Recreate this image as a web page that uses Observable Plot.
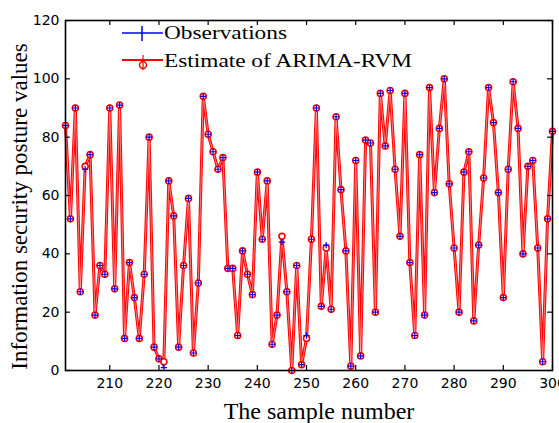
<!DOCTYPE html>
<html><head><meta charset="utf-8">
<script src="https://cdn.jsdelivr.net/npm/d3@7"></script>
<script src="https://cdn.jsdelivr.net/npm/@observablehq/plot@0.6"></script>
<style>
body{margin:0;background:#fff}
#wrap{position:relative;width:559px;height:423px}
#wrap svg{display:block}
#legend{position:absolute;left:0;top:0;pointer-events:none}
</style>
</head><body><div id="wrap"></div>
<script>
const samples = d3.range(201, 301);
const estimates = [
  84,52,90,27,70,74,19,36,33,90,
  28,91,11,37,25,11,33,80,8,4,
  3,65,53,8,36,59,6,30,94,81,
  75,69,73,35,35,12,41,33,26,68,
  45,65,9,19,46,27,0,36,2,11,
  45,90,22,42,21,87,62,41,1.5,72,
  5,79,78,20,95,77,96,69,46,95,
  37,12,74,19,97,61,83,100,64,42,
  20,68,75,17,43,66,97,85,61,25,
  69,99,83,40,70,72,42,3,52,82
];
const observations = [
  84,52,90,27,69,74,19,36,33,90,
  28,91,11,37,25,11,33,80,8,4,
  1,65,53,8,36,59,6,30,94,81,
  75,69,73,35,35,12,41,33,26,68,
  45,65,9,19,44,27,0,36,2,12,
  45,90,22,43,21,87,62,41,1.5,72,
  5,79,78,20,95,77,96,69,46,95,
  37,12,74,19,97,61,83,100,64,42,
  20,68,75,17,43,66,97,85,61,25,
  69,99,83,40,70,72,42,3,52,82
];
const xTicks = [210,220,230,240,250,260,270,280,290,300];
const yTicks = [0,20,40,60,80,100,120];
const seriesNames = ["Observations", "Estimate of ARIMA-RVM"];
const xLabel = "The sample number";
const yLabel = "Information security posture values";

const data = samples.map((t, i) => ({t, obs: observations[i], est: estimates[i]}));

const serif = "'Liberation Serif', 'Times New Roman', serif";

const chart = Plot.plot({
  width: 559, height: 423,
  marginLeft: 65, marginRight: 7, marginTop: 20, marginBottom: 53,
  x: {domain: [201, 300]},
  y: {domain: [0, 120]},
  style: {fontFamily: "DejaVu Sans", fontSize: "14px", color: "#000", background: "#fff"},
  marks: [
    Plot.axisX({ticks: xTicks, tickSize: 0, tickPadding: 8, label: null, fontSize: 14}),
    Plot.axisY({ticks: yTicks, tickSize: 0, tickPadding: 6, label: null, fontSize: 14}),
    Plot.line(data, {x: "t", y: "obs", stroke: "#0000ff", strokeWidth: 1}),
    Plot.line(data, {x: "t", y: "est", stroke: "#ff0000", strokeWidth: 3}),
    Plot.line(data, {x: "t", y: "est", stroke: "#ffffff", strokeWidth: 0.8, strokeOpacity: 0.6}),
    Plot.dot(data, {x: "t", y: "est", r: 3, stroke: "#ff0000", strokeWidth: 1.6, fill: "#fff"}),
    Plot.dot(data, {x: "t", y: "obs", symbol: "plus", r: 2.2, stroke: "#0000ff", strokeWidth: 1.2}),
    Plot.ruleX(xTicks, {x: d => d, y1: 0, y2: 1.7, stroke: "#000", strokeWidth: 1.2}),
    Plot.ruleX(xTicks, {x: d => d, y1: 120, y2: 118.3, stroke: "#000", strokeWidth: 1.2}),
    Plot.ruleY(yTicks, {y: d => d, x1: 201, x2: 202, stroke: "#000", strokeWidth: 1.2}),
    Plot.ruleY(yTicks, {y: d => d, x1: 300, x2: 299, stroke: "#000", strokeWidth: 1.2}),
    Plot.frame({stroke: "#000", strokeWidth: 1.6}),
    Plot.text([xLabel], {frameAnchor: "bottom", textAnchor: "middle", lineAnchor: "middle", dx: 10, dy: 41, fontSize: 24, fontFamily: serif, fill: "#000"}),
    Plot.text([yLabel], {frameAnchor: "left", textAnchor: "middle", lineAnchor: "middle", rotate: -90, dx: -46, dy: 11, fontSize: 23, fontFamily: serif, fill: "#000"})
  ]
});
const wrap = document.getElementById("wrap");
wrap.appendChild(chart);

// legend overlay (inside the plot box, top-left)
const lg = d3.select(wrap).append("svg").attr("id", "legend").attr("width", 559).attr("height", 423);
const rows = [
  {name: seriesNames[0], color: "#0000ff", y: 33, base: 39, len: 123},
  {name: seriesNames[1], color: "#ff0000", y: 60, base: 67, len: 248}
];
rows.forEach((r, i) => {
  lg.append("line").attr("x1", 122).attr("x2", 163).attr("y1", r.y).attr("y2", r.y)
    .attr("stroke", r.color).attr("stroke-width", i ? 2 : 1.3);
  if (i === 0) {
    lg.append("line").attr("x1", 142).attr("x2", 142).attr("y1", r.y - 7).attr("y2", r.y + 8)
      .attr("stroke", r.color).attr("stroke-width", 1.5);
  } else {
    lg.append("circle").attr("cx", 143).attr("cy", r.y + 5).attr("r", 3.5)
      .attr("fill", "#fff").attr("stroke", r.color).attr("stroke-width", 1.5);
    lg.append("line").attr("x1", 143).attr("x2", 143).attr("y1", r.y - 5).attr("y2", r.y + 10)
      .attr("stroke", r.color).attr("stroke-width", 1.2);
  }
  lg.append("text").attr("x", 164).attr("y", r.base).text(r.name)
    .attr("font-family", serif).attr("font-size", 19)
    .attr("textLength", r.len).attr("lengthAdjust", "spacingAndGlyphs").attr("fill", "#000");
});
</script>
</body></html>
